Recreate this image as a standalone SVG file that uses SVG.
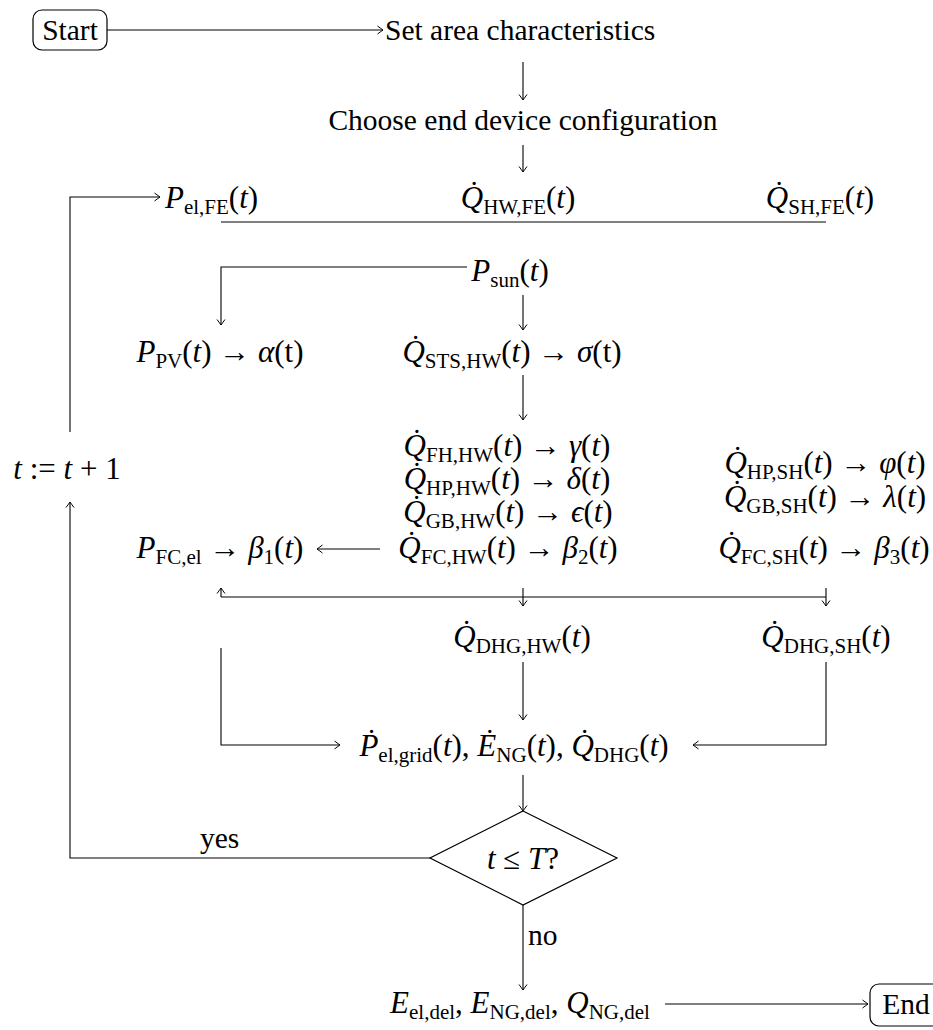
<svg xmlns="http://www.w3.org/2000/svg" width="933" height="1030" viewBox="0 0 933 1030">
<defs>
<marker id="ah" markerUnits="userSpaceOnUse" markerWidth="12" markerHeight="12" refX="0" refY="0" viewBox="-8 -6 10 12" orient="auto">
<path d="M-5.5,-4 Q-1.5,-1 0,0 Q-1.5,1 -5.5,4" fill="none" stroke="#000" stroke-width="1"/>
</marker>
<style>
.c{fill:none;stroke:#000;stroke-width:1.1}
.a{marker-end:url(#ah)}
.m{font-family:'Liberation Serif','Times New Roman','DejaVu Serif',serif;font-size:29.5px;fill:#000}
.mm{font-size:31px}
.i{font-style:italic}
.s{font-size:21px}
.box{fill:none;stroke:#000;stroke-width:1.2}
</style>
</defs>
<rect width="933" height="1030" fill="#fff"/>

<g id="connectors">
<path class="c a" d="M107,30 H383"/>
<path class="c a" d="M523,62 V100"/>
<path class="c a" d="M523,145 V172"/>
<path class="c a" d="M70,432 V197 H160"/>
<path class="c" d="M221,222 H826"/>
<path class="c a" d="M467,267 H221 V325"/>
<path class="c a" d="M523,295 V330"/>
<path class="c a" d="M523,375 V420"/>
<path class="c a" d="M380,549 H317"/>
<path class="c" d="M221,597 H826"/>
<path class="c a" d="M221,597 V588"/>
<path class="c a" d="M523,588 V606"/>
<path class="c a" d="M826,588 V606"/>
<path class="c a" d="M221,648 V745 H340"/>
<path class="c a" d="M523,662 V720"/>
<path class="c a" d="M826,662 V745 H693"/>
<path class="c a" d="M523,775 V811"/>
<path class="c a" d="M430,858 H70 V502"/>
<path class="c a" d="M523,905 V990"/>
<path class="c a" d="M665,1004 H868"/>
</g>

<g id="start"><rect class="box" x="33" y="10" width="74" height="40" rx="9"/><text class="m" x="70" y="40" text-anchor="middle">Start</text></g>
<g id="area"><text class="m" x="385" y="40">Set area characteristics</text></g>
<g id="config"><text class="m" x="523" y="130" text-anchor="middle">Choose end device configuration</text></g>

<g id="pelfe"><text class="m mm" x="165" y="208"><tspan class="i">P</tspan><tspan class="s" dy="5.5">el,FE</tspan><tspan dy="-5.5">(</tspan><tspan class="i">t</tspan>)</text></g>
<g id="qhwfe"><text class="m mm" x="518" y="208" text-anchor="middle"><tspan class="i">Q̇</tspan><tspan class="s" dy="5.5">HW,FE</tspan><tspan dy="-5.5">(</tspan><tspan class="i">t</tspan>)</text></g>
<g id="qshfe"><text class="m mm" x="820" y="208" text-anchor="middle"><tspan class="i">Q̇</tspan><tspan class="s" dy="5.5">SH,FE</tspan><tspan dy="-5.5">(</tspan><tspan class="i">t</tspan>)</text></g>

<g id="psun"><text class="m mm" x="510" y="281" text-anchor="middle"><tspan class="i">P</tspan><tspan class="s" dy="5.5">sun</tspan><tspan dy="-5.5">(</tspan><tspan class="i">t</tspan>)</text></g>
<g id="ppv"><text class="m mm" x="220" y="362" text-anchor="middle"><tspan class="i">P</tspan><tspan class="s" dy="5.5">PV</tspan><tspan dy="-5.5">(</tspan><tspan class="i">t</tspan>) → <tspan class="i">α</tspan>(t)</text></g>
<g id="qsts"><text class="m mm" x="512" y="362" text-anchor="middle"><tspan class="i">Q̇</tspan><tspan class="s" dy="5.5">STS,HW</tspan><tspan dy="-5.5">(</tspan><tspan class="i">t</tspan>) → <tspan class="i">σ</tspan>(t)</text></g>

<g id="hwstack">
<text class="m mm" x="507" y="456" text-anchor="middle"><tspan class="i">Q̇</tspan><tspan class="s" dy="5.5">FH,HW</tspan><tspan dy="-5.5">(</tspan><tspan class="i">t</tspan>) → <tspan class="i">γ</tspan>(<tspan class="i">t</tspan>)</text>
<text class="m mm" x="507" y="489" text-anchor="middle"><tspan class="i">Q̇</tspan><tspan class="s" dy="5.5">HP,HW</tspan><tspan dy="-5.5">(</tspan><tspan class="i">t</tspan>) → <tspan class="i">δ</tspan>(<tspan class="i">t</tspan>)</text>
<text class="m mm" x="508" y="522" text-anchor="middle"><tspan class="i">Q̇</tspan><tspan class="s" dy="5.5">GB,HW</tspan><tspan dy="-5.5">(</tspan><tspan class="i">t</tspan>) → <tspan class="i">ϵ</tspan>(<tspan class="i">t</tspan>)</text>
<text class="m mm" x="508" y="558" text-anchor="middle"><tspan class="i">Q̇</tspan><tspan class="s" dy="5.5">FC,HW</tspan><tspan dy="-5.5">(</tspan><tspan class="i">t</tspan>) → <tspan class="i">β</tspan><tspan class="s" dy="5.5">2</tspan><tspan dy="-5.5">(</tspan><tspan class="i">t</tspan>)</text>
</g>
<g id="shstack">
<text class="m mm" x="825" y="473" text-anchor="middle"><tspan class="i">Q̇</tspan><tspan class="s" dy="5.5">HP,SH</tspan><tspan dy="-5.5">(</tspan><tspan class="i">t</tspan>) → <tspan class="i">φ</tspan>(<tspan class="i">t</tspan>)</text>
<text class="m mm" x="825" y="507" text-anchor="middle"><tspan class="i">Q̇</tspan><tspan class="s" dy="5.5">GB,SH</tspan><tspan dy="-5.5">(</tspan><tspan class="i">t</tspan>) → <tspan class="i">λ</tspan>(<tspan class="i">t</tspan>)</text>
<text class="m mm" x="824" y="558" text-anchor="middle"><tspan class="i">Q̇</tspan><tspan class="s" dy="5.5">FC,SH</tspan><tspan dy="-5.5">(</tspan><tspan class="i">t</tspan>) → <tspan class="i">β</tspan><tspan class="s" dy="5.5">3</tspan><tspan dy="-5.5">(</tspan><tspan class="i">t</tspan>)</text>
</g>
<g id="pfcel"><text class="m mm" x="220" y="558" text-anchor="middle"><tspan class="i">P</tspan><tspan class="s" dy="5.5">FC,el</tspan><tspan dy="-5.5"> → </tspan><tspan class="i">β</tspan><tspan class="s" dy="5.5">1</tspan><tspan dy="-5.5">(</tspan><tspan class="i">t</tspan>)</text></g>

<g id="tinc"><text class="m mm" x="67" y="479" text-anchor="middle"><tspan class="i">t</tspan> := <tspan class="i">t</tspan> + 1</text></g>

<g id="qdhghw"><text class="m mm" x="522" y="647" text-anchor="middle"><tspan class="i">Q̇</tspan><tspan class="s" dy="5.5">DHG,HW</tspan><tspan dy="-5.5">(</tspan><tspan class="i">t</tspan>)</text></g>
<g id="qdhgsh"><text class="m mm" x="826" y="647" text-anchor="middle"><tspan class="i">Q̇</tspan><tspan class="s" dy="5.5">DHG,SH</tspan><tspan dy="-5.5">(</tspan><tspan class="i">t</tspan>)</text></g>

<g id="grid"><text class="m mm" x="514" y="756" text-anchor="middle"><tspan class="i">Ṗ</tspan><tspan class="s" dy="5.5">el,grid</tspan><tspan dy="-5.5">(</tspan><tspan class="i">t</tspan>), <tspan class="i">Ė</tspan><tspan class="s" dy="5.5">NG</tspan><tspan dy="-5.5">(</tspan><tspan class="i">t</tspan>), <tspan class="i">Q̇</tspan><tspan class="s" dy="5.5">DHG</tspan><tspan dy="-5.5">(</tspan><tspan class="i">t</tspan>)</text></g>

<g id="decision"><polygon class="box" points="523,811 617,858 523,905 430,858"/><text class="m mm" x="523" y="869" text-anchor="middle"><tspan class="i">t</tspan> ≤ <tspan class="i">T</tspan>?</text></g>
<g id="labels"><text class="m" x="200" y="848">yes</text><text class="m" x="528" y="945">no</text></g>

<g id="result"><text class="m mm" x="520" y="1013" text-anchor="middle"><tspan class="i">E</tspan><tspan class="s" dy="5.5">el,del</tspan><tspan dy="-5.5">, </tspan><tspan class="i">E</tspan><tspan class="s" dy="5.5">NG,del</tspan><tspan dy="-5.5">, </tspan><tspan class="i">Q</tspan><tspan class="s" dy="5.5">NG,del</tspan></text></g>
<g id="end"><rect class="box" x="870" y="984" width="72" height="42" rx="9"/><text class="m" x="906" y="1014" text-anchor="middle">End</text></g>
</svg>
